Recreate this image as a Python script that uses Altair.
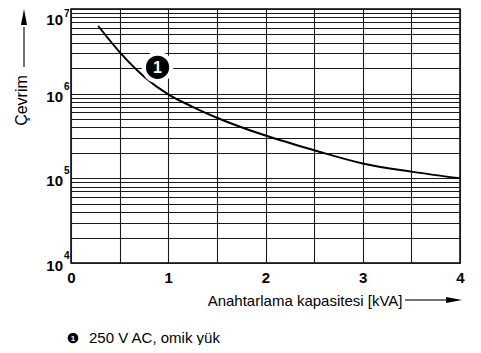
import altair as alt
import pandas as pd

# ---- data ----
capacity_kva = [0.28, 0.5, 0.75, 1.0, 1.25, 1.5, 2.0, 2.5, 3.0, 3.5, 4.0]
cycles = [6.3e6, 3.1e6, 1.6e6, 9.8e5, 7.0e5, 5.2e5, 3.2e5, 2.15e5, 1.5e5, 1.2e5, 1.0e5]

x_ticks = [0, 0.5, 1, 1.5, 2, 2.5, 3, 3.5, 4]
decades = [1e4, 1e5, 1e6, 1e7]
exponents = ["4", "5", "6", "7"]
y_grid = [m * 10 ** k for k in (4, 5, 6) for m in range(1, 10)] + [1e7]

marker_x = [0.89]
marker_y = [2.05e6]
marker_label = ["1"]
legend_text = "250 V AC, omik yük"

FONT = "Liberation Sans"

curve_df = pd.DataFrame({"x": capacity_kva, "y": cycles})
dec_df = pd.DataFrame({"y": decades, "e": exponents, "base": ["10"] * 4})
mark_df = pd.DataFrame({"x": marker_x, "y": marker_y, "t": marker_label})

xscale = alt.Scale(domain=[0, 4], nice=False)
yscale = alt.Scale(type="log", domain=[1e4, 1e7], nice=False)

base = alt.Chart(curve_df)

curve = base.mark_line(color="black", strokeWidth=2, interpolate="monotone").encode(
    x=alt.X("x:Q", scale=xscale, axis=alt.Axis(
        values=x_ticks, grid=True, gridColor="#1a1a1a", gridWidth=1.1, ticks=False, domain=False,
        labelExpr="datum.value % 1 == 0 ? format(datum.value, 'd') : ''",
        labelFont=FONT, labelFontSize=15, labelFontWeight="bold", labelColor="black",
        labelPadding=7, labelFlush=False, labelOverlap=False, labelBound=False,
        title="Anahtarlama kapasitesi [kVA]", titleFont=FONT, titleFontSize=15,
        titleFontWeight="normal", titleColor="black", titleX=331, titleY=37,
        titleAlign="right", titleBaseline="middle", titleAnchor="end")),
    y=alt.Y("y:Q", scale=yscale, axis=alt.Axis(
        values=y_grid, grid=True, gridColor="#1a1a1a", gridWidth=1.1, ticks=False, domain=False,
        labels=False,
        title="Çevrim", titleFont=FONT, titleFontSize=16, titleFontWeight="normal",
        titleColor="black", titleAngle=270, titleX=-50, titleY=91,
        titleAlign="center", titleBaseline="middle")),
)

dec_top = alt.Chart(dec_df).transform_filter("datum.y == 1e7")
dec_rest = alt.Chart(dec_df).transform_filter("datum.y < 1e7")

def dec_layers(ch, dy, edy):
    ten = ch.mark_text(font=FONT, fontSize=15, fontWeight="bold", align="right",
                       baseline="middle", dy=dy, color="black").encode(
        x=alt.value(-8), y=alt.Y("y:Q", scale=yscale), text="base:N")
    ex = ch.mark_text(font=FONT, fontSize=10, fontWeight="bold", align="left",
                      baseline="middle", dy=edy, color="black").encode(
        x=alt.value(-7), y=alt.Y("y:Q", scale=yscale), text="e:N")
    return [ten, ex]

mk = alt.Chart(mark_df)
halo = mk.mark_point(shape="circle", filled=True, color="white", opacity=1, size=1000).encode(
    x=alt.X("x:Q", scale=xscale), y=alt.Y("y:Q", scale=yscale))
dot = mk.mark_point(shape="circle", filled=True, color="black", opacity=1, size=540).encode(
    x=alt.X("x:Q", scale=xscale), y=alt.Y("y:Q", scale=yscale))
dot_t = mk.mark_text(font=FONT, fontSize=16, fontWeight="bold", color="white",
                     baseline="middle", align="center", dy=1).encode(
    x=alt.X("x:Q", scale=xscale), y=alt.Y("y:Q", scale=yscale), text="t:N")

one = alt.Data(values=[{"t": "1", "s": legend_text}])

y_arrow_line = alt.Chart(one).mark_rule(color="#444", strokeWidth=1.5).encode(
    x=alt.value(-47), y=alt.value(18), y2=alt.value(58))
y_arrow_head = alt.Chart(one).mark_point(
    shape="M0,-1L0.38,1L-0.38,1Z", filled=True, color="black", opacity=1, size=256
).encode(x=alt.value(-47), y=alt.value(8))

x_arrow_line = alt.Chart(one).mark_rule(color="#444", strokeWidth=1.5).encode(
    x=alt.value(334), x2=alt.value(380), y=alt.value(291))
x_arrow_head = alt.Chart(one).mark_point(
    shape="M1,0L-1,-0.38L-1,0.38Z", filled=True, color="black", opacity=1, size=256
).encode(x=alt.value(383), y=alt.value(291))

leg_dot = alt.Chart(one).mark_point(shape="circle", filled=True, color="black",
                                    opacity=1, size=115).encode(
    x=alt.value(2), y=alt.value(329))
leg_num = alt.Chart(one).mark_text(font=FONT, fontSize=8, fontWeight="bold", color="white",
                                   align="center", baseline="middle").encode(
    x=alt.value(2), y=alt.value(329.5), text="t:N")
leg_txt = alt.Chart(one).mark_text(font=FONT, fontSize=15, color="black",
                                   align="left", baseline="middle").encode(
    x=alt.value(18), y=alt.value(329), text="s:N")

chart = alt.layer(
    curve, *dec_layers(dec_top, 11, 5), *dec_layers(dec_rest, 3, -7),
    halo, dot, dot_t,
    y_arrow_line, y_arrow_head, x_arrow_line, x_arrow_head,
    leg_dot, leg_num, leg_txt,
).properties(
    width=389, height=254,
    autosize=alt.AutoSizeParams(type="none"),
    padding={"left": 63, "top": 1, "right": 13, "bottom": 82},
    background="white",
).configure_view(stroke="black", strokeWidth=1.5)

chart.save("out.html", embed_options={"renderer": "svg", "actions": False})
